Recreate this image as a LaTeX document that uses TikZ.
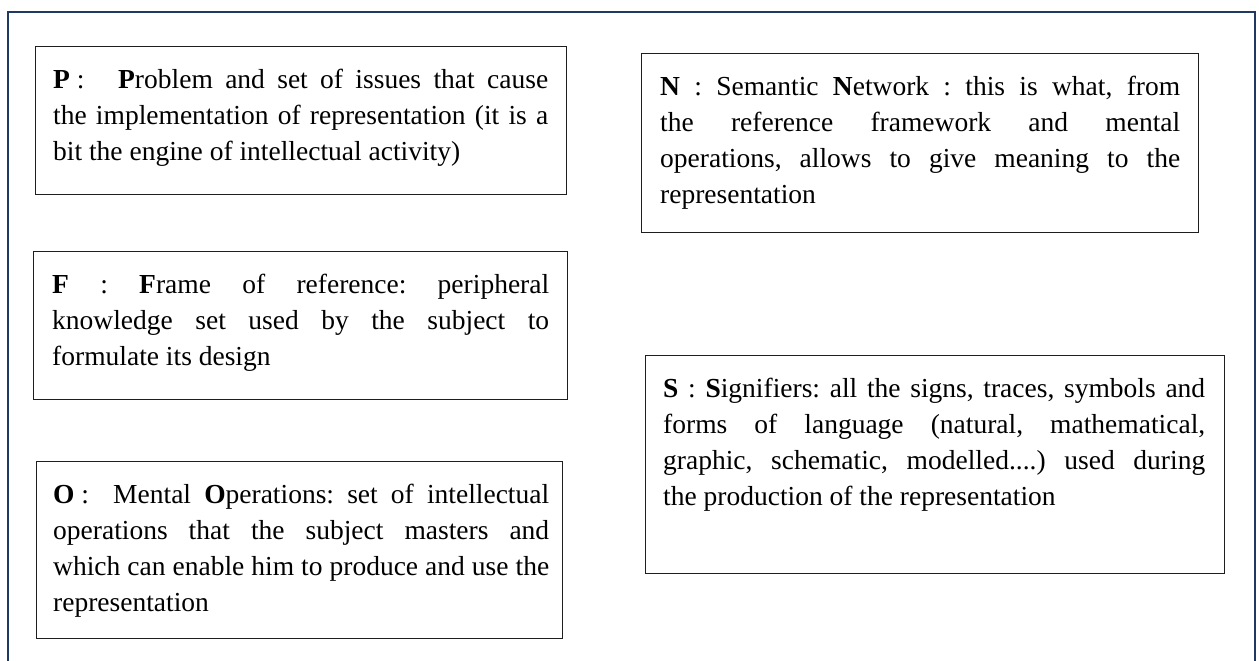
\documentclass[tikz,border=0pt]{standalone}
\usepackage{fontspec}
\setmainfont{Liberation Serif}
\usetikzlibrary{calc}
\definecolor{framenavy}{RGB}{31,56,100}
\definecolor{panelline}{RGB}{30,30,30}
% paragraph settings for the panel texts
\newcommand{\blurbsetup}{\frenchspacing\hyphenpenalty=10000\relax\emergencystretch=20pt\relax\strut}
% a letter and colon set in a fixed-width lead, like a tab stop
\newcommand{\leadin}[2]{\makebox[#1][l]{\textbf{#2} :}}
\begin{document}
\begin{tikzpicture}[x=1pt,y=-1pt,
  panel/.style={draw=panelline, line width=1.1pt, inner sep=0pt, anchor=north west},
  blurb/.style={anchor=north west, inner sep=0pt, align=justify,
    font={\fontsize{27.5}{36}\selectfont}},
]
\useasboundingbox (0,0) rectangle (1259,661);

% outer frame, open at the bottom
\begin{scope}
  \clip (0,0) rectangle (1259,661);
  \draw[framenavy, line width=2.2pt] (8,700) -- (8,12) -- (1255,12) -- (1255,700);
\end{scope}

% left column
\node[panel, minimum width=531pt, minimum height=148pt] (P) at (35,46) {};
\node[blurb, text width=495pt] (Ptext) at ($(P.north west)+(18,17)$)
  {\blurbsetup\leadin{65pt}{P}\textbf{P}roblem and set of issues that cause\linebreak
   the implementation of representation (it is a\linebreak
   bit the engine of intellectual activity)};

\node[panel, minimum width=534pt, minimum height=148pt] (F) at (33,251) {};
\node[blurb, text width=497pt] (Ftext) at ($(F.north west)+(19,17)$)
  {\blurbsetup\textbf{F} : \textbf{F}rame of reference: peripheral\linebreak
   knowledge set used by the subject to\linebreak
   formulate its design};

\node[panel, minimum width=526pt, minimum height=177pt] (O) at (36,461) {};
\node[blurb, text width=496pt] (Otext) at ($(O.north west)+(17,17)$)
  {\blurbsetup\leadin{60pt}{O}Mental \textbf{O}perations: set of intellectual\linebreak
   operations that the subject masters and\linebreak
   which can enable him to produce and use the\linebreak
   representation};

% right column
\node[panel, minimum width=557pt, minimum height=179pt] (N) at (641,53) {};
\node[blurb, text width=520pt] (Ntext) at ($(N.north west)+(19,17)$)
  {\blurbsetup\textbf{N} : Semantic \textbf{N}etwork : this is what, from\linebreak
   the reference framework and mental\linebreak
   operations, allows to give meaning to the\linebreak
   representation};

\node[panel, minimum width=579pt, minimum height=218pt] (S) at (645,355) {};
\node[blurb, text width=542pt] (Stext) at ($(S.north west)+(18,17)$)
  {\blurbsetup\textbf{S} : \textbf{S}ignifiers: all the signs, traces, symbols and\linebreak
   forms of language (natural, mathematical,\linebreak
   graphic, schematic, modelled....) used during\linebreak
   the production of the representation};
\end{tikzpicture}
\end{document}
